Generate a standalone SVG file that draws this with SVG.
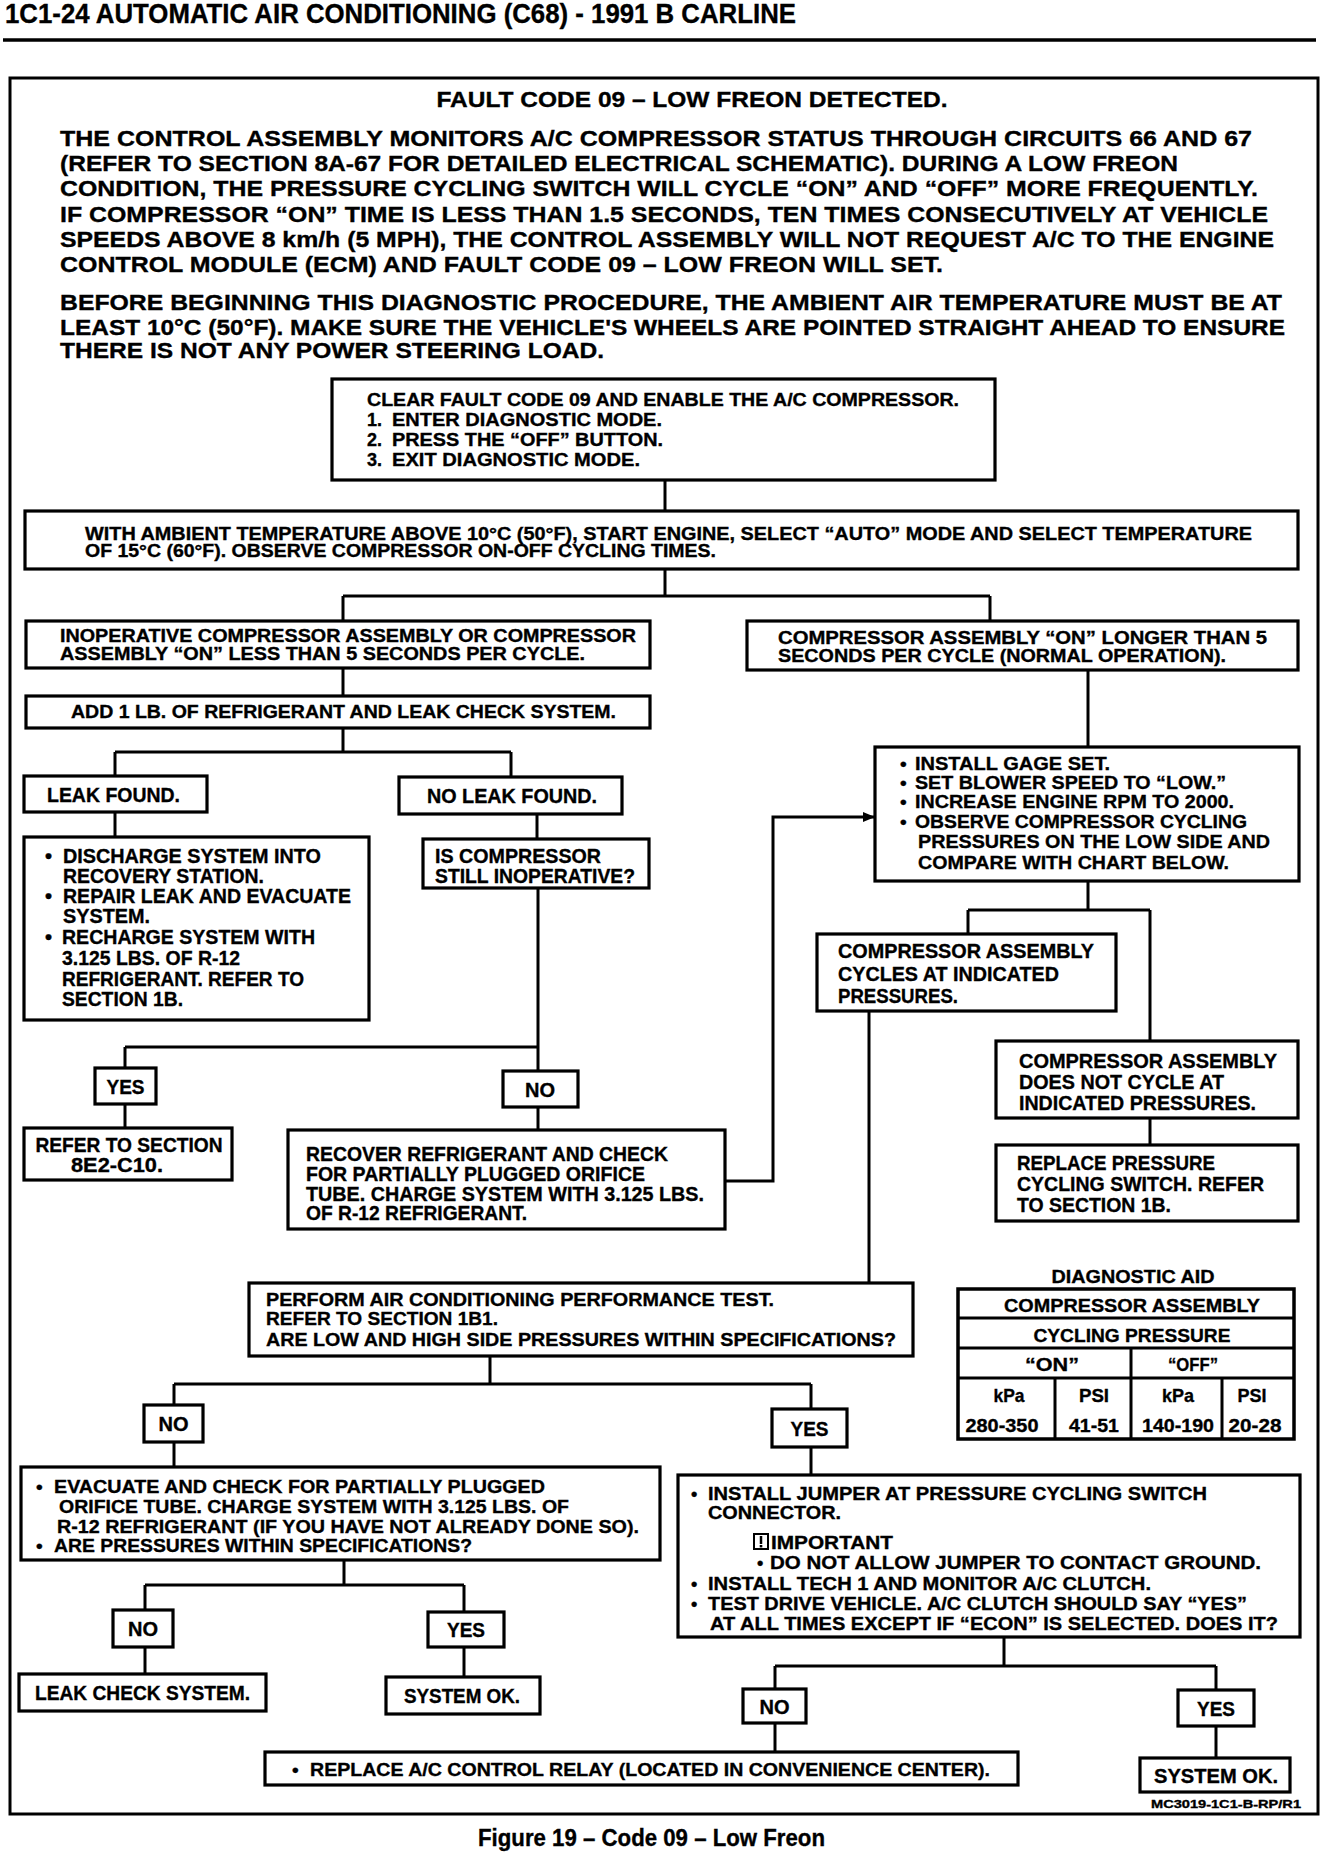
<svg xmlns="http://www.w3.org/2000/svg" width="1328" height="1856" viewBox="0 0 1328 1856">
<style>
text{font-family:"Liberation Sans Narrow","Liberation Sans",Arial,sans-serif;font-weight:bold;fill:#000;stroke:#000;stroke-width:0.35}
.b{fill:#fff;stroke:#000;stroke-width:3.2}
.c{fill:none;stroke:#000;stroke-width:3}
.s17{font-size:17px}.s18{font-size:18px}.s19{font-size:19px}.s20{font-size:20px}.s21{font-size:21px}.s22{font-size:22px}
.m{text-anchor:middle}
</style>
<defs>
<marker id="arr" viewBox="0 0 12 10" refX="12" refY="5" markerWidth="12" markerHeight="10" markerUnits="userSpaceOnUse" orient="auto"><path d="M0,0 L12,5 L0,10 z" fill="#000"/></marker>
</defs>
<rect width="1328" height="1856" fill="#fff"/>
<g id="header">
<text x="5" y="23" style="font-size:27px" textLength="791" lengthAdjust="spacingAndGlyphs">1C1-24  AUTOMATIC AIR CONDITIONING (C68)  - 1991 B CARLINE</text>
<line x1="3" y1="40" x2="1316" y2="40" stroke="#000" stroke-width="3.5"/>
</g>
<rect id="frame" x="10" y="78" width="1308" height="1736" fill="none" stroke="#000" stroke-width="3"/>
<g id="intro">
<text class="m" x="692" y="107" style="font-size:22px" textLength="511" lengthAdjust="spacingAndGlyphs">FAULT CODE 09 – LOW FREON DETECTED.</text>
<text x="60" y="146" class="s22" textLength="1192" lengthAdjust="spacingAndGlyphs">THE CONTROL ASSEMBLY MONITORS A/C COMPRESSOR STATUS THROUGH CIRCUITS 66 AND 67</text>
<text x="60" y="171" class="s22" textLength="1118" lengthAdjust="spacingAndGlyphs">(REFER TO SECTION 8A-67 FOR DETAILED ELECTRICAL SCHEMATIC). DURING A LOW FREON</text>
<text x="60" y="196" class="s22" textLength="1198" lengthAdjust="spacingAndGlyphs">CONDITION, THE PRESSURE CYCLING SWITCH WILL CYCLE “ON” AND “OFF” MORE FREQUENTLY.</text>
<text x="60" y="222" class="s22" textLength="1208" lengthAdjust="spacingAndGlyphs">IF COMPRESSOR “ON” TIME IS LESS THAN 1.5 SECONDS, TEN TIMES CONSECUTIVELY AT VEHICLE</text>
<text x="60" y="247" class="s22" textLength="1214" lengthAdjust="spacingAndGlyphs">SPEEDS ABOVE 8 km/h (5 MPH), THE CONTROL ASSEMBLY WILL NOT REQUEST A/C TO THE ENGINE</text>
<text x="60" y="272" class="s22" textLength="883" lengthAdjust="spacingAndGlyphs">CONTROL MODULE (ECM) AND FAULT CODE 09 – LOW FREON WILL SET.</text>
<text x="60" y="310" class="s22" textLength="1222" lengthAdjust="spacingAndGlyphs">BEFORE BEGINNING THIS DIAGNOSTIC PROCEDURE, THE AMBIENT AIR TEMPERATURE MUST BE AT</text>
<text x="60" y="335" class="s22" textLength="1225" lengthAdjust="spacingAndGlyphs">LEAST 10°C (50°F). MAKE SURE THE VEHICLE'S WHEELS ARE POINTED STRAIGHT AHEAD TO ENSURE</text>
<text x="60" y="358" class="s22" textLength="544" lengthAdjust="spacingAndGlyphs">THERE IS NOT ANY POWER STEERING LOAD.</text>
</g>
<g id="connectors">
<path class="c" d="M665,480 V511"/>
<path class="c" d="M665,569 V596 M343,596 H990 M343,596 V621 M990,596 V621"/>
<path class="c" d="M343,668 V696"/>
<path class="c" d="M343,728 V752 M115,752 H511 M115,752 V776 M511,752 V777"/>
<path class="c" d="M115,812 V837"/>
<path class="c" d="M537,814 V839"/>
<path class="c" d="M538,888 V1047 M125,1047 H538 M125,1047 V1068 M538,1047 V1071"/>
<path class="c" d="M125,1104 V1128"/>
<path class="c" d="M538,1107 V1130"/>
<path class="c" d="M725,1181 H773 V817 H875" marker-end="url(#arr)"/>
<path class="c" d="M1088,670 V747"/>
<path class="c" d="M1088,881 V910 M968,910 H1150 M968,910 V934 M1150,910 V1041"/>
<path class="c" d="M1150,1118 V1145"/>
<path class="c" d="M869,1011 V1283"/>
<path class="c" d="M490,1356 V1384 M174,1384 H811 M174,1384 V1405 M811,1384 V1409"/>
<path class="c" d="M174,1442 V1467"/>
<path class="c" d="M344,1560 V1585 M145,1585 H464 M145,1585 V1610 M464,1585 V1612"/>
<path class="c" d="M145,1647 V1674"/>
<path class="c" d="M464,1647 V1677"/>
<path class="c" d="M811,1447 V1475"/>
<path class="c" d="M1004,1637 V1666 M775,1666 H1216 M775,1666 V1689 M1216,1666 V1690"/>
<path class="c" d="M775,1723 V1752"/>
<path class="c" d="M1216,1726 V1758"/>
</g>
<g id="n_clear">
<rect class="b" x="332" y="379" width="663" height="101"/>
<text x="367" y="406" class="s18" textLength="592" lengthAdjust="spacingAndGlyphs">CLEAR FAULT CODE 09 AND ENABLE THE A/C COMPRESSOR.</text>
<text x="367" y="426" class="s18">1.</text><text x="392" y="426" class="s18" textLength="270" lengthAdjust="spacingAndGlyphs">ENTER DIAGNOSTIC MODE.</text>
<text x="367" y="446" class="s18">2.</text><text x="392" y="446" class="s18" textLength="271" lengthAdjust="spacingAndGlyphs">PRESS THE “OFF” BUTTON.</text>
<text x="367" y="466" class="s18">3.</text><text x="392" y="466" class="s18" textLength="248" lengthAdjust="spacingAndGlyphs">EXIT DIAGNOSTIC MODE.</text>
</g>
<g id="n_ambient">
<rect class="b" x="25" y="511" width="1273" height="58"/>
<text x="85" y="540" class="s18" textLength="1167" lengthAdjust="spacingAndGlyphs">WITH AMBIENT TEMPERATURE ABOVE 10°C (50°F), START ENGINE, SELECT “AUTO” MODE AND SELECT TEMPERATURE</text>
<text x="85" y="557" class="s18" textLength="631" lengthAdjust="spacingAndGlyphs">OF 15°C (60°F). OBSERVE COMPRESSOR ON-OFF CYCLING TIMES.</text>
</g>
<g id="n_inop">
<rect class="b" x="26" y="621" width="624" height="47"/>
<text x="60" y="642" class="s18" textLength="576" lengthAdjust="spacingAndGlyphs">INOPERATIVE COMPRESSOR ASSEMBLY OR COMPRESSOR</text>
<text x="60" y="660" class="s18" textLength="525" lengthAdjust="spacingAndGlyphs">ASSEMBLY  “ON” LESS THAN 5 SECONDS PER CYCLE.</text>
</g>
<g id="n_normal">
<rect class="b" x="747" y="621" width="551" height="49"/>
<text x="778" y="644" class="s18" textLength="489" lengthAdjust="spacingAndGlyphs">COMPRESSOR ASSEMBLY “ON”  LONGER THAN 5</text>
<text x="778" y="662" class="s18" textLength="448" lengthAdjust="spacingAndGlyphs">SECONDS PER CYCLE (NORMAL OPERATION).</text>
</g>
<g id="n_add">
<rect class="b" x="26" y="696" width="624" height="32"/>
<text x="71" y="718" class="s18" textLength="545" lengthAdjust="spacingAndGlyphs">ADD 1 LB. OF REFRIGERANT AND LEAK CHECK SYSTEM.</text>
</g>
<g id="n_leak">
<rect class="b" x="24" y="776" width="183" height="36"/>
<text x="47" y="802" class="s20" textLength="133" lengthAdjust="spacingAndGlyphs">LEAK FOUND.</text>
</g>
<g id="n_noleak">
<rect class="b" x="399" y="777" width="223" height="37"/>
<text x="427" y="803" class="s20" textLength="170" lengthAdjust="spacingAndGlyphs">NO LEAK FOUND.</text>
</g>
<g id="n_discharge">
<rect class="b" x="24" y="837" width="345" height="183"/>
<text x="45" y="863" class="s20">•</text><text x="63" y="863" class="s20" textLength="258" lengthAdjust="spacingAndGlyphs">DISCHARGE SYSTEM INTO</text>
<text x="63" y="883" class="s20" textLength="201" lengthAdjust="spacingAndGlyphs">RECOVERY STATION.</text>
<text x="45" y="903" class="s20">•</text><text x="63" y="903" class="s20" textLength="288" lengthAdjust="spacingAndGlyphs">REPAIR LEAK AND EVACUATE</text>
<text x="63" y="923" class="s20" textLength="87" lengthAdjust="spacingAndGlyphs">SYSTEM.</text>
<text x="45" y="944" class="s20">•</text><text x="62" y="944" class="s20" textLength="253" lengthAdjust="spacingAndGlyphs">RECHARGE SYSTEM WITH</text>
<text x="62" y="965" class="s20" textLength="178" lengthAdjust="spacingAndGlyphs">3.125 LBS. OF R-12</text>
<text x="62" y="986" class="s20" textLength="242" lengthAdjust="spacingAndGlyphs">REFRIGERANT. REFER TO</text>
<text x="62" y="1006" class="s20" textLength="121" lengthAdjust="spacingAndGlyphs">SECTION 1B.</text>
</g>
<g id="n_still">
<rect class="b" x="423" y="839" width="226" height="49"/>
<text x="435" y="863" class="s20" textLength="166" lengthAdjust="spacingAndGlyphs">IS COMPRESSOR</text>
<text x="435" y="883" class="s20" textLength="200" lengthAdjust="spacingAndGlyphs">STILL INOPERATIVE?</text>
</g>
<g id="n_yes1">
<rect class="b" x="95" y="1068" width="61" height="36"/>
<text class="m s20" x="125.5" y="1094" textLength="38" lengthAdjust="spacingAndGlyphs">YES</text>
</g>
<g id="n_no1">
<rect class="b" x="503" y="1071" width="75" height="36"/>
<text class="m s20" x="540" y="1097" textLength="30" lengthAdjust="spacingAndGlyphs">NO</text>
</g>
<g id="n_refer">
<rect class="b" x="24" y="1128" width="208" height="52"/>
<text class="m s20" x="129" y="1152" textLength="187" lengthAdjust="spacingAndGlyphs">REFER TO SECTION</text>
<text class="m s20" x="117" y="1172" textLength="92" lengthAdjust="spacingAndGlyphs">8E2-C10.</text>
</g>
<g id="n_recover">
<rect class="b" x="288" y="1130" width="437" height="99"/>
<text x="306" y="1161" class="s20" textLength="362" lengthAdjust="spacingAndGlyphs">RECOVER REFRIGERANT AND CHECK</text>
<text x="306" y="1181" class="s20" textLength="339" lengthAdjust="spacingAndGlyphs">FOR PARTIALLY PLUGGED ORIFICE</text>
<text x="306" y="1201" class="s20" textLength="398" lengthAdjust="spacingAndGlyphs">TUBE. CHARGE SYSTEM WITH 3.125 LBS.</text>
<text x="306" y="1220" class="s20" textLength="221" lengthAdjust="spacingAndGlyphs">OF R-12 REFRIGERANT.</text>
</g>
<g id="n_gage">
<rect class="b" x="875" y="747" width="424" height="134"/>
<text x="900" y="770" class="s19">•</text><text x="915" y="770" class="s19" textLength="195" lengthAdjust="spacingAndGlyphs">INSTALL GAGE SET.</text>
<text x="900" y="789" class="s19">•</text><text x="915" y="789" class="s19" textLength="311" lengthAdjust="spacingAndGlyphs">SET BLOWER SPEED TO “LOW.”</text>
<text x="900" y="808" class="s19">•</text><text x="915" y="808" class="s19" textLength="319" lengthAdjust="spacingAndGlyphs">INCREASE ENGINE RPM TO 2000.</text>
<text x="900" y="828" class="s19">•</text><text x="915" y="828" class="s19" textLength="332" lengthAdjust="spacingAndGlyphs">OBSERVE COMPRESSOR CYCLING</text>
<text x="918" y="848" class="s19" textLength="352" lengthAdjust="spacingAndGlyphs">PRESSURES ON THE LOW SIDE AND</text>
<text x="918" y="869" class="s19" textLength="311" lengthAdjust="spacingAndGlyphs">COMPARE WITH CHART BELOW.</text>
</g>
<g id="n_cycles">
<rect class="b" x="817" y="934" width="299" height="77"/>
<text x="838" y="958" class="s20" textLength="256" lengthAdjust="spacingAndGlyphs">COMPRESSOR ASSEMBLY</text>
<text x="838" y="981" class="s20" textLength="221" lengthAdjust="spacingAndGlyphs">CYCLES AT INDICATED</text>
<text x="838" y="1003" class="s20" textLength="120" lengthAdjust="spacingAndGlyphs">PRESSURES.</text>
</g>
<g id="n_doesnot">
<rect class="b" x="996" y="1041" width="302" height="77"/>
<text x="1019" y="1068" class="s20" textLength="258" lengthAdjust="spacingAndGlyphs">COMPRESSOR ASSEMBLY</text>
<text x="1019" y="1089" class="s20" textLength="205" lengthAdjust="spacingAndGlyphs">DOES NOT CYCLE AT</text>
<text x="1019" y="1110" class="s20" textLength="237" lengthAdjust="spacingAndGlyphs">INDICATED PRESSURES.</text>
</g>
<g id="n_replace_switch">
<rect class="b" x="996" y="1145" width="302" height="76"/>
<text x="1017" y="1170" class="s20" textLength="198" lengthAdjust="spacingAndGlyphs">REPLACE PRESSURE</text>
<text x="1017" y="1191" class="s20" textLength="247" lengthAdjust="spacingAndGlyphs">CYCLING SWITCH. REFER</text>
<text x="1017" y="1212" class="s20" textLength="154" lengthAdjust="spacingAndGlyphs">TO SECTION 1B.</text>
</g>
<g id="n_diag_aid">
<text class="m s19" x="1133" y="1283" textLength="163" lengthAdjust="spacingAndGlyphs">DIAGNOSTIC AID</text>
<rect x="958" y="1289" width="336" height="150" fill="#fff" stroke="#000" stroke-width="3.5"/>
<path d="M958,1318 H1294 M958,1348 H1294 M958,1378 H1294 M1131,1348 V1439 M1055,1378 V1439 M1222,1378 V1439" stroke="#000" stroke-width="3" fill="none"/>
<text class="m s19" x="1132" y="1312" textLength="256" lengthAdjust="spacingAndGlyphs">COMPRESSOR ASSEMBLY</text>
<text class="m s19" x="1132" y="1342" textLength="197" lengthAdjust="spacingAndGlyphs">CYCLING PRESSURE</text>
<text class="m s19" x="1052" y="1371" textLength="54" lengthAdjust="spacingAndGlyphs">“ON”</text>
<text class="m s19" x="1193" y="1371" textLength="50" lengthAdjust="spacingAndGlyphs">“OFF”</text>
<text class="m s19" x="1009" y="1402" textLength="31" lengthAdjust="spacingAndGlyphs">kPa</text>
<text class="m s19" x="1094" y="1402" textLength="30" lengthAdjust="spacingAndGlyphs">PSI</text>
<text class="m s19" x="1178" y="1402" textLength="32" lengthAdjust="spacingAndGlyphs">kPa</text>
<text class="m s19" x="1252" y="1402" textLength="29" lengthAdjust="spacingAndGlyphs">PSI</text>
<text class="m s19" x="1002" y="1432" textLength="73" lengthAdjust="spacingAndGlyphs">280-350</text>
<text class="m s19" x="1094" y="1432" textLength="50" lengthAdjust="spacingAndGlyphs">41-51</text>
<text class="m s19" x="1178" y="1432" textLength="72" lengthAdjust="spacingAndGlyphs">140-190</text>
<text class="m s19" x="1255" y="1432" textLength="53" lengthAdjust="spacingAndGlyphs">20-28</text>
</g>
<g id="n_perform">
<rect class="b" x="249" y="1283" width="664" height="73"/>
<text x="266" y="1306" class="s19" textLength="508" lengthAdjust="spacingAndGlyphs">PERFORM AIR CONDITIONING PERFORMANCE TEST.</text>
<text x="266" y="1325" class="s19" textLength="232" lengthAdjust="spacingAndGlyphs">REFER TO SECTION 1B1.</text>
<text x="266" y="1346" class="s19" textLength="630" lengthAdjust="spacingAndGlyphs">ARE LOW AND HIGH SIDE PRESSURES WITHIN SPECIFICATIONS?</text>
</g>
<g id="n_no2">
<rect class="b" x="144" y="1405" width="59" height="37"/>
<text class="m s20" x="173.5" y="1431" textLength="30" lengthAdjust="spacingAndGlyphs">NO</text>
</g>
<g id="n_yes2">
<rect class="b" x="772" y="1409" width="75" height="38"/>
<text class="m s20" x="809.5" y="1436" textLength="38" lengthAdjust="spacingAndGlyphs">YES</text>
</g>
<g id="n_evacuate">
<rect class="b" x="21" y="1467" width="639" height="93"/>
<text x="36" y="1493" class="s19">•</text><text x="54" y="1493" class="s19" textLength="491" lengthAdjust="spacingAndGlyphs">EVACUATE AND CHECK FOR PARTIALLY PLUGGED</text>
<text x="59" y="1513" class="s19" textLength="510" lengthAdjust="spacingAndGlyphs">ORIFICE TUBE. CHARGE SYSTEM WITH 3.125 LBS. OF</text>
<text x="57" y="1533" class="s19" textLength="582" lengthAdjust="spacingAndGlyphs">R-12 REFRIGERANT (IF YOU HAVE NOT ALREADY DONE SO).</text>
<text x="36" y="1552" class="s19">•</text><text x="54" y="1552" class="s19" textLength="418" lengthAdjust="spacingAndGlyphs">ARE PRESSURES WITHIN SPECIFICATIONS?</text>
</g>
<g id="n_no3">
<rect class="b" x="113" y="1610" width="60" height="37"/>
<text class="m s20" x="143" y="1636" textLength="30" lengthAdjust="spacingAndGlyphs">NO</text>
</g>
<g id="n_yes3">
<rect class="b" x="428" y="1612" width="76" height="35"/>
<text class="m s20" x="466" y="1637" textLength="38" lengthAdjust="spacingAndGlyphs">YES</text>
</g>
<g id="n_leakcheck">
<rect class="b" x="19" y="1674" width="247" height="37"/>
<text x="35" y="1700" class="s20" textLength="215" lengthAdjust="spacingAndGlyphs">LEAK CHECK SYSTEM.</text>
</g>
<g id="n_systemok1">
<rect class="b" x="386" y="1677" width="154" height="37"/>
<text x="404" y="1703" class="s20" textLength="116" lengthAdjust="spacingAndGlyphs">SYSTEM OK.</text>
</g>
<g id="n_jumper">
<rect class="b" x="678" y="1475" width="622" height="162"/>
<text x="691" y="1500" class="s18">•</text><text x="708" y="1500" class="s18" textLength="499" lengthAdjust="spacingAndGlyphs">INSTALL JUMPER AT PRESSURE CYCLING SWITCH</text>
<text x="708" y="1519" class="s18" textLength="133" lengthAdjust="spacingAndGlyphs">CONNECTOR.</text>
<g id="important_icon"><rect x="754" y="1534" width="14" height="15" fill="none" stroke="#000" stroke-width="2"/><line x1="761" y1="1536" x2="761" y2="1544" stroke="#000" stroke-width="2.5"/><rect x="759.7" y="1545" width="2.6" height="2.4" fill="#000"/></g>
<text x="771" y="1549" class="s18" textLength="122" lengthAdjust="spacingAndGlyphs">IMPORTANT</text>
<text x="757" y="1569" class="s18">•</text><text x="770" y="1569" class="s18" textLength="491" lengthAdjust="spacingAndGlyphs">DO NOT  ALLOW JUMPER TO CONTACT GROUND.</text>
<text x="691" y="1590" class="s18">•</text><text x="708" y="1590" class="s18" textLength="443" lengthAdjust="spacingAndGlyphs">INSTALL TECH 1 AND MONITOR A/C CLUTCH.</text>
<text x="691" y="1610" class="s18">•</text><text x="708" y="1610" class="s18" textLength="539" lengthAdjust="spacingAndGlyphs">TEST DRIVE VEHICLE. A/C CLUTCH SHOULD SAY “YES”</text>
<text x="710" y="1630" class="s18" textLength="568" lengthAdjust="spacingAndGlyphs">AT ALL TIMES  EXCEPT IF “ECON” IS SELECTED. DOES IT?</text>
</g>
<g id="n_no4">
<rect class="b" x="743" y="1689" width="63" height="34"/>
<text class="m s20" x="774.5" y="1714" textLength="30" lengthAdjust="spacingAndGlyphs">NO</text>
</g>
<g id="n_yes4">
<rect class="b" x="1178" y="1690" width="76" height="36"/>
<text class="m s20" x="1216" y="1716" textLength="38" lengthAdjust="spacingAndGlyphs">YES</text>
</g>
<g id="n_relay">
<rect class="b" x="265" y="1752" width="753" height="33"/>
<text x="292" y="1776" class="s19">•</text><text x="310" y="1776" class="s19" textLength="680" lengthAdjust="spacingAndGlyphs">REPLACE A/C CONTROL RELAY (LOCATED IN CONVENIENCE CENTER).</text>
</g>
<g id="n_systemok2">
<rect class="b" x="1140" y="1758" width="150" height="34"/>
<text x="1154" y="1783" class="s20" textLength="124" lengthAdjust="spacingAndGlyphs">SYSTEM OK.</text>
</g>
<g id="footer">
<text x="1301" y="1808" style="font-size:11px;text-anchor:end" textLength="150" lengthAdjust="spacingAndGlyphs">MC3019-1C1-B-RP/R1</text>
<text x="478" y="1846" style="font-size:23px" textLength="347" lengthAdjust="spacingAndGlyphs">Figure 19 – Code 09 – Low Freon</text>
</g>
</svg>
